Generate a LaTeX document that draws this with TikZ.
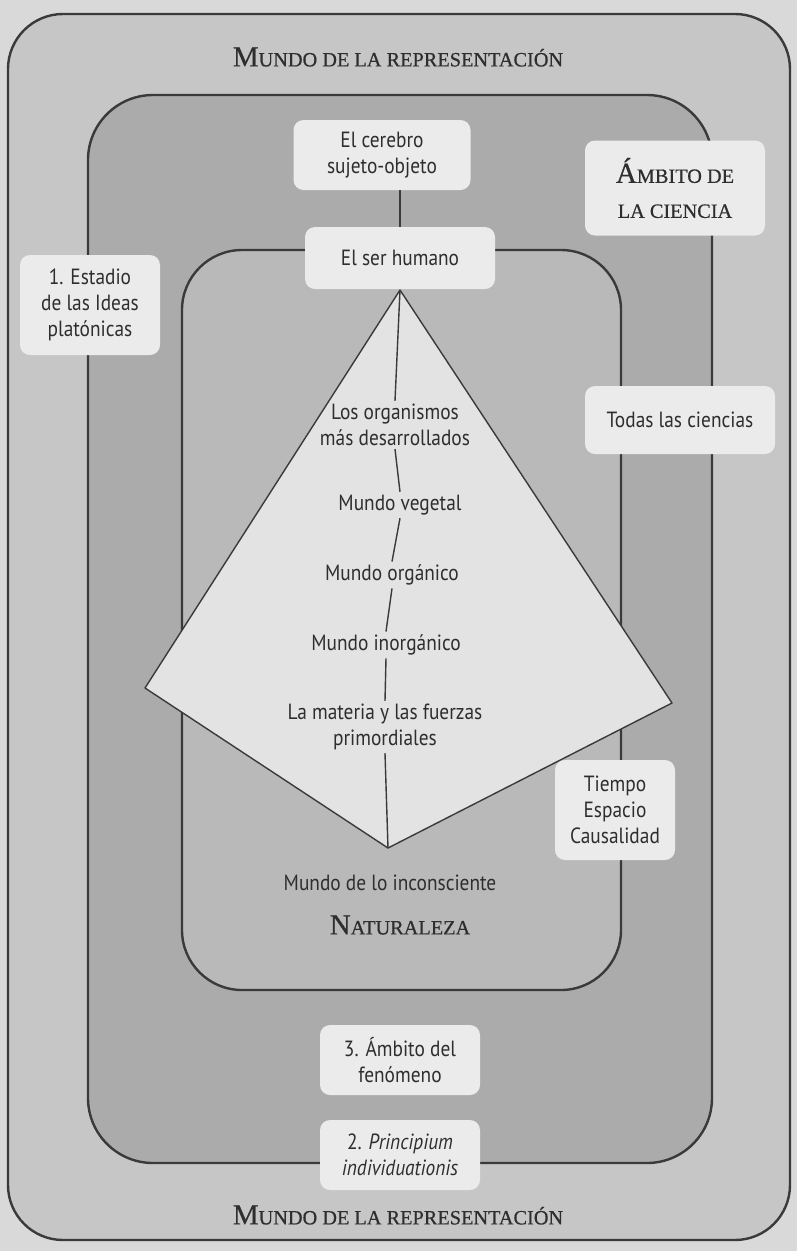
\documentclass[tikz,border=0pt]{standalone}
\usepackage{fontspec}
\setsansfont{PT Sans}[FakeStretch=0.88]
\newfontfamily\hfont{Liberation Serif}[FakeBold=0.6]
\definecolor{bgc}{HTML}{D9D9D9}
\definecolor{outerc}{HTML}{C6C6C6}
\definecolor{midc}{HTML}{ABABAB}
\definecolor{innerc}{HTML}{B9B9B9}
\definecolor{diac}{HTML}{E3E3E3}
\definecolor{boxc}{HTML}{EBEBEB}
\definecolor{ink}{HTML}{2E2E2E}
\definecolor{edge}{HTML}{3A3A3A}
% manual small caps: #1 big initial, #2 rest in small capitals
\newcommand{\hsc}[2]{{\fontsize{29}{32}\selectfont #1}{\fontsize{20.3}{32}\selectfont #2}}
\begin{document}
\begin{tikzpicture}[x=1pt,y=-1pt,
  lbl/.style={fill=boxc, rounded corners=10pt, align=center, text=ink,
    font=\sffamily\fontsize{22}{26}\selectfont, inner sep=0pt},
  head/.style={text=ink, font=\hfont, align=center, inner sep=0pt},
  ptxt/.style={text=ink, font=\sffamily\fontsize{22}{26}\selectfont, align=center, inner sep=3pt},
  frame/.style={draw=edge, line width=2.4pt},
  thin/.style={draw=edge, line width=1.4pt}]
\useasboundingbox (0,0) rectangle (797,1251);
\fill[bgc] (0,0) rectangle (797,1251);
% nested regions
\path[frame, fill=outerc, rounded corners=55pt] (8,14) rectangle (790,1240);
\path[frame, fill=midc, rounded corners=65pt] (88,95) rectangle (712,1163);
\path[frame, fill=innerc, rounded corners=60pt] (182,250) rectangle (621,990);
% pyramid
\coordinate (apex) at (400,290);
\coordinate (rc) at (672,703);
\coordinate (bot) at (388,848);
\coordinate (lc) at (145,688);
\path[thin, fill=diac, line join=round] (apex) -- (rc) -- (bot) -- (lc) -- cycle;
% headers
\node[head] (mtop) at (398,57) {\hsc{M}{UNDO DE LA REPRESENTACIÓN}};
\node[head] (mbot) at (398,1215) {\hsc{M}{UNDO DE LA REPRESENTACIÓN}};
\node[head] (nat) at (400,925) {\hsc{N}{ATURALEZA}};
% pyramid texts
\node[ptxt] (org) at (395,425) {Los organismos\\más desarrollados};
\node[ptxt] (veg) at (400,505) {Mundo vegetal};
\node[ptxt] (orgn) at (392,575) {Mundo orgánico};
\node[ptxt] (inorg) at (386,645) {Mundo inorgánico};
\node[ptxt] (mat) at (385,727) {La materia y las fuerzas\\primordiales};
\node[ptxt] (inc) at (390,883) {Mundo de lo inconsciente};
% central line
\draw[thin] (apex) -- (org.north);
\draw[thin] (org.south) -- (veg.north);
\draw[thin] (veg.south) -- (orgn.north);
\draw[thin] (orgn.south) -- (inorg.north);
\draw[thin] (inorg.south) -- (mat.north);
\draw[thin] (mat.south) -- (bot);
% label boxes
\node[lbl, minimum width=177pt, minimum height=70pt] (cer) at (382,155) {El cerebro\\sujeto-objeto};
\node[lbl, minimum width=190pt, minimum height=62pt] (hum) at (400,258) {El ser humano};
\draw[thin] (cer.south -| 400,0) -- (hum.north);
\node[lbl, minimum width=180pt, minimum height=95pt, font=\hfont\fontsize{20.3}{35}\selectfont] (amb) at (675,188) {\hsc{Á}{MBITO DE}\\LA CIENCIA};
\node[lbl, minimum width=140pt, minimum height=100pt] (est) at (90,305) {1. Estadio\\de las Ideas\\platónicas};
\node[lbl, minimum width=190pt, minimum height=68pt] (tod) at (680,420) {Todas las ciencias};
\node[lbl, minimum width=120pt, minimum height=100pt] (tie) at (615,810) {Tiempo\\Espacio\\Causalidad};
\node[lbl, minimum width=160pt, minimum height=70pt] (fen) at (400,1060) {3. Ámbito del\\fenómeno};
\node[lbl, minimum width=160pt, minimum height=70pt] (pri) at (400,1155) {2. \textit{Principium}\\\textit{individuationis}};
\end{tikzpicture}
\end{document}
